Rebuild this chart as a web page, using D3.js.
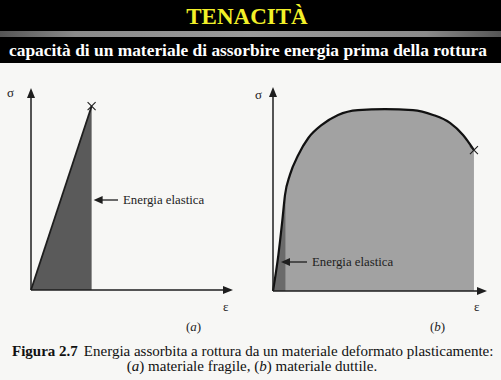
<!DOCTYPE html>
<html><head><meta charset="utf-8">
<script src="https://cdn.jsdelivr.net/npm/d3@7"></script>
<style>html,body{margin:0;padding:0;background:#f7f7f5;}svg{display:block;}</style>
</head><body>
<script>
// ---- data ----
const titleText = "TENACITÀ";
const subtitleText = "capacità di un materiale di assorbire energia prima della rottura";
const captionBold = "Figura 2.7";
const captionLine1 = "Energia assorbita a rottura da un materiale deformato plasticamente:";
const brittleStrain = [0, 30];      // panel (a) strain
const brittleStress = [0, 91];      // panel (a) stress
const ductileStrain = [0, 2.5, 4.3, 5.6, 7.9, 11.8, 16.5, 22.8, 30.4, 39.7, 52.3, 65.4, 74.8, 82.7, 88.8, 93.9];
const ductileStress = [0, 17.6, 34, 47, 56.9, 66.7, 75, 81.4, 86.3, 88.7, 89.2, 88.7, 86.3, 82.4, 76.5, 69.1];
const elasticLimitB = 5.8;          // end of elastic part in panel (b)
const labelElastic = "Energia elastica";
const axisLabels = ["σ", "ε"];
const panelTags = ["a", "b"];

const W = 501, H = 380;
const svg = d3.select("body").append("svg").attr("width", W).attr("height", H);
const defs = svg.append("defs");
const g1 = defs.append("linearGradient").attr("id","bar").attr("x1","0").attr("x2","1");
g1.append("stop").attr("offset","0").attr("stop-color","#555");
g1.append("stop").attr("offset","0.15").attr("stop-color","#8a8a8a");
g1.append("stop").attr("offset","0.5").attr("stop-color","#9a9a9a");
g1.append("stop").attr("offset","0.85").attr("stop-color","#8a8a8a");
g1.append("stop").attr("offset","1").attr("stop-color","#555");

// header
svg.append("rect").attr("x",0).attr("y",0).attr("width",W).attr("height",63).attr("fill","#000");
svg.append("rect").attr("x",0).attr("y",31).attr("width",W).attr("height",6).attr("fill","url(#bar)");
svg.append("text").attr("x",247).attr("y",24).attr("text-anchor","middle")
  .attr("font-family","Liberation Serif").attr("font-weight","bold").attr("font-size",23)
  .attr("fill","#f2f028").text(titleText);
svg.append("text").attr("x",248).attr("y",56).attr("text-anchor","middle")
  .attr("font-family","Liberation Serif").attr("font-weight","bold").attr("font-size",17.4)
  .attr("fill","#fff").text(subtitleText);

const ink = "#1e1e1e";
function arrowHead(x, y, dir){ // dir: 'up' or 'right'
  const p = dir==="up" ? [[x,y],[x-4,y+10],[x+4,y+10]] : [[x,y],[x-10,y-4],[x-10,y+4]];
  svg.append("path").attr("d", d3.line()(p)+"Z").attr("fill", ink);
}
function smallArrowLeft(x1, x2, y){
  svg.append("line").attr("x1",x1+8).attr("x2",x2).attr("y1",y).attr("y2",y).attr("stroke",ink).attr("stroke-width",1.3);
  svg.append("path").attr("d", d3.line()([[x1,y],[x1+9,y-4],[x1+9,y+4]])+"Z").attr("fill",ink);
}
function cross(x,y,s){
  svg.append("path").attr("d",`M${x-s},${y-s}L${x+s},${y+s}M${x-s},${y+s}L${x+s},${y-s}`)
    .attr("stroke",ink).attr("stroke-width",1.1).attr("fill","none");
}

// ---- panel (a) ----
const xa = d3.scaleLinear().domain([0,100]).range([31,233]);
const ya = d3.scaleLinear().domain([0,100]).range([290,88]);
const triPts = [[xa(brittleStrain[0]),ya(brittleStress[0])],[xa(brittleStrain[1]),ya(brittleStress[1])],[xa(brittleStrain[1]),ya(0)]];
svg.append("path").attr("d", d3.line()(triPts)+"Z").attr("fill","#5a5a5a");
svg.append("path").attr("d", d3.line()(triPts.slice(0,2))).attr("stroke",ink).attr("stroke-width",1.8).attr("fill","none");
cross(xa(brittleStrain[1]), ya(brittleStress[1]), 4);
svg.append("line").attr("x1",xa(0)).attr("x2",xa(0)).attr("y1",ya(0)).attr("y2",ya(100)+6).attr("stroke",ink).attr("stroke-width",1.5);
svg.append("line").attr("x1",xa(0)).attr("x2",xa(100)-6).attr("y1",ya(0)).attr("y2",ya(0)).attr("stroke",ink).attr("stroke-width",1.5);
arrowHead(xa(0), ya(100), "up");
arrowHead(xa(100), ya(0), "right");
svg.append("text").attr("x",7).attr("y",97).attr("font-family","Liberation Serif").attr("font-size",13).attr("fill",ink).text(axisLabels[0]);
svg.append("text").attr("x",223).attr("y",311).attr("font-family","Liberation Serif").attr("font-size",13).attr("fill",ink).text(axisLabels[1]);
smallArrowLeft(xa(brittleStrain[1])+2, 118, 200);
svg.append("text").attr("x",123).attr("y",204).attr("font-family","Liberation Serif").attr("font-size",12.8).attr("fill",ink).text(labelElastic);
const tagA = svg.append("text").attr("x",186).attr("y",331).attr("font-family","Liberation Serif").attr("font-size",13).attr("fill",ink);
tagA.append("tspan").text("(");
tagA.append("tspan").attr("font-style","italic").text(panelTags[0]);
tagA.append("tspan").text(")");

// ---- panel (b) ----
const xb = d3.scaleLinear().domain([0,100]).range([273,487]);
const yb = d3.scaleLinear().domain([0,100]).range([291,87]);
const pts = ductileStrain.map((d,i)=>[d, ductileStress[i]]);
const area = d3.area().x(d=>xb(d[0])).y0(yb(0)).y1(d=>yb(d[1])).curve(d3.curveMonotoneX);
svg.append("path").attr("d", area(pts)).attr("fill","#a2a2a2");
// elastic part
const clipId = "elclip";
defs.append("clipPath").attr("id",clipId).append("rect")
  .attr("x", xb(0)).attr("y", yb(100)).attr("width", xb(elasticLimitB)-xb(0)).attr("height", yb(0)-yb(100));
svg.append("path").attr("d", area(pts)).attr("fill","#6a6a6a").attr("clip-path",`url(#${clipId})`);
const line = d3.line().x(d=>xb(d[0])).y(d=>yb(d[1])).curve(d3.curveMonotoneX);
svg.append("path").attr("d", line(pts)).attr("stroke","#111").attr("stroke-width",2.2).attr("fill","none");
const last = pts[pts.length-1];
cross(xb(last[0]), yb(last[1]), 4);
svg.append("line").attr("x1",xb(0)).attr("x2",xb(0)).attr("y1",yb(0)).attr("y2",yb(100)+6).attr("stroke",ink).attr("stroke-width",1.5);
svg.append("line").attr("x1",xb(0)).attr("x2",xb(100)-6).attr("y1",yb(0)).attr("y2",yb(0)).attr("stroke",ink).attr("stroke-width",1.5);
arrowHead(xb(0), yb(100), "up");
arrowHead(xb(100), yb(0), "right");
svg.append("text").attr("x",255).attr("y",99).attr("font-family","Liberation Serif").attr("font-size",13).attr("fill",ink).text(axisLabels[0]);
svg.append("text").attr("x",474).attr("y",311).attr("font-family","Liberation Serif").attr("font-size",13).attr("fill",ink).text(axisLabels[1]);
smallArrowLeft(281, 307, 262);
svg.append("text").attr("x",312).attr("y",266).attr("font-family","Liberation Serif").attr("font-size",12.8).attr("fill",ink).text(labelElastic);
const tagB = svg.append("text").attr("x",430).attr("y",331).attr("font-family","Liberation Serif").attr("font-size",13).attr("fill",ink);
tagB.append("tspan").text("(");
tagB.append("tspan").attr("font-style","italic").text(panelTags[1]);
tagB.append("tspan").text(")");

// ---- caption ----
const c1 = svg.append("text").attr("x",12).attr("y",356).attr("font-family","Liberation Serif").attr("font-size",15).attr("fill","#111");
c1.append("tspan").attr("font-weight","bold").text(captionBold);
c1.append("tspan").attr("dx",6).text(captionLine1);
const c2 = svg.append("text").attr("x",252).attr("y",371).attr("text-anchor","middle").attr("font-family","Liberation Serif").attr("font-size",15).attr("fill","#111");
c2.append("tspan").text("(");
c2.append("tspan").attr("font-style","italic").text("a");
c2.append("tspan").text(") materiale fragile, (");
c2.append("tspan").attr("font-style","italic").text("b");
c2.append("tspan").text(") materiale duttile.");
</script>
</body></html>
